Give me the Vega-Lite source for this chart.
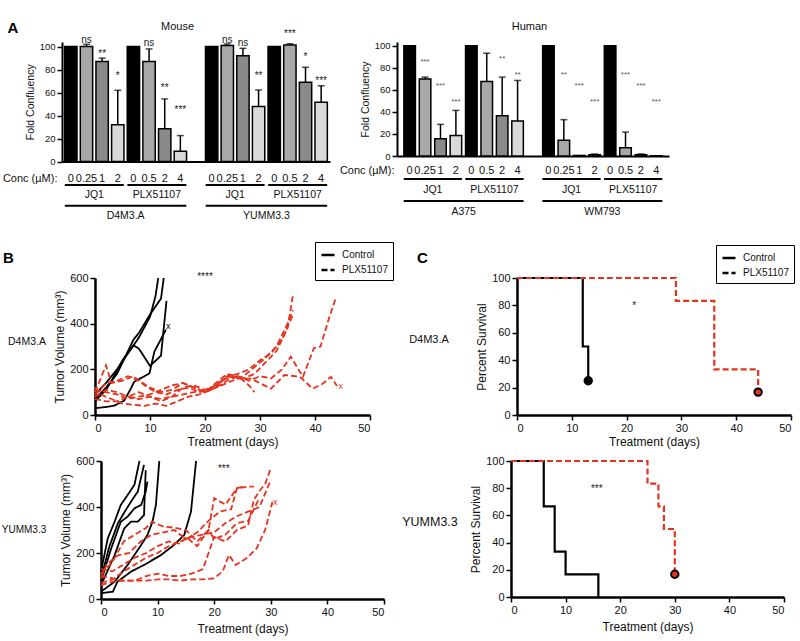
{
  "$schema": "https://vega.github.io/schema/vega-lite/v6.json",
  "background": "white",
  "padding": {"left": 1, "top": 20, "right": 2, "bottom": 2},
  "config": {
    "font": "Liberation Sans",
    "view": {"stroke": null},
    "axis": {"domainColor": "#000", "tickColor": "#000", "labelColor": "#111", "titleColor": "#111", "titleFontWeight": "normal", "grid": false, "domainWidth": 2.5, "tickWidth": 1.5, "tickSize": 5, "labelFontSize": 11, "titleFontSize": 12, "labelPadding": 2, "titlePadding": 3, "labelOverlap": false},
    "title": {"fontWeight": "normal", "color": "#111"},
    "text": {"color": "#111"}
  },
  "datasets": {
    "mouse": [
      {"slot": 0, "key": "0|0", "level": 0, "cell": "D4M3.A", "drug": "JQ1", "value": 100},
      {"slot": 1, "key": "1|0.25", "level": 1, "cell": "D4M3.A", "drug": "JQ1", "value": 100, "hi": 102, "sig": "ns", "sigY": 107.5},
      {"slot": 2, "key": "2|1", "level": 2, "cell": "D4M3.A", "drug": "JQ1", "value": 87, "hi": 90, "sig": "**", "sigY": 95},
      {"slot": 3, "key": "3|2", "level": 3, "cell": "D4M3.A", "drug": "JQ1", "value": 32, "hi": 62, "sig": "*", "sigY": 76},
      {"slot": 4, "key": "4|0", "level": 0, "cell": "D4M3.A", "drug": "PLX51107", "value": 100},
      {"slot": 5, "key": "5|0.5", "level": 1, "cell": "D4M3.A", "drug": "PLX51107", "value": 87, "hi": 98, "sig": "ns", "sigY": 105},
      {"slot": 6, "key": "6|2", "level": 2, "cell": "D4M3.A", "drug": "PLX51107", "value": 28.5, "hi": 54.5, "sig": "**", "sigY": 66},
      {"slot": 7, "key": "7|4", "level": 3, "cell": "D4M3.A", "drug": "PLX51107", "value": 9, "hi": 22.6, "sig": "***", "sigY": 47},
      {"slot": 9, "key": "9|0", "level": 0, "cell": "YUMM3.3", "drug": "JQ1", "value": 100},
      {"slot": 10, "key": "10|0.25", "level": 1, "cell": "YUMM3.3", "drug": "JQ1", "value": 101, "hi": 102.3, "sig": "ns", "sigY": 107.5},
      {"slot": 11, "key": "11|1", "level": 2, "cell": "YUMM3.3", "drug": "JQ1", "value": 92, "hi": 98.5, "sig": "ns", "sigY": 105},
      {"slot": 12, "key": "12|2", "level": 3, "cell": "YUMM3.3", "drug": "JQ1", "value": 48, "hi": 62.3, "sig": "**", "sigY": 76},
      {"slot": 13, "key": "13|0", "level": 0, "cell": "YUMM3.3", "drug": "PLX51107", "value": 100},
      {"slot": 14, "key": "14|0.5", "level": 1, "cell": "YUMM3.3", "drug": "PLX51107", "value": 101.4, "hi": 102.5, "sig": "***", "sigY": 113},
      {"slot": 15, "key": "15|2", "level": 2, "cell": "YUMM3.3", "drug": "PLX51107", "value": 69, "hi": 82, "sig": "*", "sigY": 93},
      {"slot": 16, "key": "16|4", "level": 3, "cell": "YUMM3.3", "drug": "PLX51107", "value": 51.6, "hi": 66, "sig": "***", "sigY": 72}
    ],
    "human": [
      {"slot": 0, "key": "0|0", "level": 0, "cell": "A375", "drug": "JQ1", "value": 100},
      {"slot": 1, "key": "1|0.25", "level": 1, "cell": "A375", "drug": "JQ1", "value": 70, "hi": 71.6, "sig": "***", "sigY": 87},
      {"slot": 2, "key": "2|1", "level": 2, "cell": "A375", "drug": "JQ1", "value": 15.7, "hi": 28.7, "sig": "***", "sigY": 65.5},
      {"slot": 3, "key": "3|2", "level": 3, "cell": "A375", "drug": "JQ1", "value": 18.7, "hi": 41.4, "sig": "***", "sigY": 51},
      {"slot": 4, "key": "4|0", "level": 0, "cell": "A375", "drug": "PLX51107", "value": 100},
      {"slot": 5, "key": "5|0.5", "level": 1, "cell": "A375", "drug": "PLX51107", "value": 67.7, "hi": 93.3, "sig": "*", "sigY": 91},
      {"slot": 6, "key": "6|2", "level": 2, "cell": "A375", "drug": "PLX51107", "value": 36.6, "hi": 71.6, "sig": "**", "sigY": 89.5},
      {"slot": 7, "key": "7|4", "level": 3, "cell": "A375", "drug": "PLX51107", "value": 31.7, "hi": 68.6, "sig": "**", "sigY": 75},
      {"slot": 9, "key": "9|0", "level": 0, "cell": "WM793", "drug": "JQ1", "value": 100},
      {"slot": 10, "key": "10|0.25", "level": 1, "cell": "WM793", "drug": "JQ1", "value": 14.2, "hi": 33, "sig": "**", "sigY": 75},
      {"slot": 11, "key": "11|1", "level": 2, "cell": "WM793", "drug": "JQ1", "value": 0.5, "sig": "***", "sigY": 65.5},
      {"slot": 12, "key": "12|2", "level": 3, "cell": "WM793", "drug": "JQ1", "value": 1.2, "hi": 1.8, "sig": "***", "sigY": 51},
      {"slot": 13, "key": "13|0", "level": 0, "cell": "WM793", "drug": "PLX51107", "value": 100},
      {"slot": 14, "key": "14|0.5", "level": 1, "cell": "WM793", "drug": "PLX51107", "value": 7.6, "hi": 21.7, "sig": "***", "sigY": 75},
      {"slot": 15, "key": "15|2", "level": 2, "cell": "WM793", "drug": "PLX51107", "value": 1.2, "hi": 1.8, "sig": "***", "sigY": 65.5},
      {"slot": 16, "key": "16|4", "level": 3, "cell": "WM793", "drug": "PLX51107", "value": 0.3, "sig": "***", "sigY": 51}
    ],
    "btop": [
      {"m":"c1","g":"Control","d":0,"v":90},{"m":"c1","g":"Control","d":2,"v":140},{"m":"c1","g":"Control","d":4,"v":200},{"m":"c1","g":"Control","d":6,"v":270},{"m":"c1","g":"Control","d":8,"v":340},{"m":"c1","g":"Control","d":10,"v":430},{"m":"c1","g":"Control","d":11,"v":520},{"m":"c1","g":"Control","d":11.5,"v":600},
      {"m":"c2","g":"Control","d":0,"v":70},{"m":"c2","g":"Control","d":2,"v":120},{"m":"c2","g":"Control","d":4,"v":180},{"m":"c2","g":"Control","d":6,"v":280},{"m":"c2","g":"Control","d":7,"v":330},{"m":"c2","g":"Control","d":8,"v":360},{"m":"c2","g":"Control","d":10,"v":440},{"m":"c2","g":"Control","d":12,"v":510},{"m":"c2","g":"Control","d":12.5,"v":600},
      {"m":"c3","g":"Control","d":0,"v":60},{"m":"c3","g":"Control","d":2,"v":110},{"m":"c3","g":"Control","d":3,"v":150},{"m":"c3","g":"Control","d":5,"v":240},{"m":"c3","g":"Control","d":7,"v":305},{"m":"c3","g":"Control","d":8,"v":290},{"m":"c3","g":"Control","d":10,"v":215},{"m":"c3","g":"Control","d":12,"v":260},{"m":"c3","g":"Control","d":13,"v":500},
      {"m":"c4","g":"Control","d":0,"v":30},{"m":"c4","g":"Control","d":2,"v":35},{"m":"c4","g":"Control","d":3.5,"v":41},{"m":"c4","g":"Control","d":5.3,"v":63},{"m":"c4","g":"Control","d":6.5,"v":115},{"m":"c4","g":"Control","d":7.1,"v":145},{"m":"c4","g":"Control","d":9.9,"v":182},{"m":"c4","g":"Control","d":10.8,"v":278},{"m":"c4","g":"Control","d":12.9,"v":374},
      {"m":"p1","g":"PLX51107","d":0,"v":100},{"m":"p1","g":"PLX51107","d":2,"v":217},{"m":"p1","g":"PLX51107","d":3,"v":140},{"m":"p1","g":"PLX51107","d":5,"v":150},{"m":"p1","g":"PLX51107","d":7,"v":170},{"m":"p1","g":"PLX51107","d":9,"v":130},{"m":"p1","g":"PLX51107","d":11,"v":100},{"m":"p1","g":"PLX51107","d":13,"v":90},{"m":"p1","g":"PLX51107","d":15,"v":110},{"m":"p1","g":"PLX51107","d":17,"v":120},{"m":"p1","g":"PLX51107","d":19,"v":100},{"m":"p1","g":"PLX51107","d":21,"v":110},{"m":"p1","g":"PLX51107","d":23,"v":150},{"m":"p1","g":"PLX51107","d":25,"v":170},{"m":"p1","g":"PLX51107","d":27,"v":160},{"m":"p1","g":"PLX51107","d":29,"v":180},{"m":"p1","g":"PLX51107","d":31,"v":230},{"m":"p1","g":"PLX51107","d":33,"v":280},{"m":"p1","g":"PLX51107","d":35,"v":380},{"m":"p1","g":"PLX51107","d":36,"v":527},
      {"m":"p2","g":"PLX51107","d":0,"v":120},{"m":"p2","g":"PLX51107","d":1,"v":90},{"m":"p2","g":"PLX51107","d":3,"v":70},{"m":"p2","g":"PLX51107","d":5,"v":50},{"m":"p2","g":"PLX51107","d":7,"v":45},{"m":"p2","g":"PLX51107","d":9,"v":40},{"m":"p2","g":"PLX51107","d":11,"v":50},{"m":"p2","g":"PLX51107","d":13,"v":40},{"m":"p2","g":"PLX51107","d":15,"v":60},{"m":"p2","g":"PLX51107","d":17,"v":80},{"m":"p2","g":"PLX51107","d":19,"v":90},{"m":"p2","g":"PLX51107","d":21,"v":110},{"m":"p2","g":"PLX51107","d":23,"v":130},{"m":"p2","g":"PLX51107","d":25,"v":150},{"m":"p2","g":"PLX51107","d":27,"v":170},{"m":"p2","g":"PLX51107","d":29,"v":210},{"m":"p2","g":"PLX51107","d":31,"v":250},{"m":"p2","g":"PLX51107","d":33,"v":300},{"m":"p2","g":"PLX51107","d":35,"v":400},{"m":"p2","g":"PLX51107","d":36,"v":460},
      {"m":"p3","g":"PLX51107","d":0,"v":80},{"m":"p3","g":"PLX51107","d":2,"v":110},{"m":"p3","g":"PLX51107","d":4,"v":100},{"m":"p3","g":"PLX51107","d":6,"v":80},{"m":"p3","g":"PLX51107","d":8,"v":70},{"m":"p3","g":"PLX51107","d":10,"v":80},{"m":"p3","g":"PLX51107","d":12,"v":60},{"m":"p3","g":"PLX51107","d":14,"v":80},{"m":"p3","g":"PLX51107","d":16,"v":120},{"m":"p3","g":"PLX51107","d":18,"v":130},{"m":"p3","g":"PLX51107","d":20,"v":110},{"m":"p3","g":"PLX51107","d":22,"v":130},{"m":"p3","g":"PLX51107","d":24,"v":170},{"m":"p3","g":"PLX51107","d":26,"v":180},{"m":"p3","g":"PLX51107","d":28,"v":200},{"m":"p3","g":"PLX51107","d":30,"v":240},{"m":"p3","g":"PLX51107","d":32,"v":270},{"m":"p3","g":"PLX51107","d":34,"v":330},{"m":"p3","g":"PLX51107","d":36,"v":440},
      {"m":"p4","g":"PLX51107","d":0,"v":90},{"m":"p4","g":"PLX51107","d":2,"v":140},{"m":"p4","g":"PLX51107","d":4,"v":150},{"m":"p4","g":"PLX51107","d":6,"v":170},{"m":"p4","g":"PLX51107","d":8,"v":150},{"m":"p4","g":"PLX51107","d":10,"v":120},{"m":"p4","g":"PLX51107","d":12,"v":100},{"m":"p4","g":"PLX51107","d":14,"v":110},{"m":"p4","g":"PLX51107","d":16,"v":140},{"m":"p4","g":"PLX51107","d":18,"v":120},{"m":"p4","g":"PLX51107","d":20,"v":100},{"m":"p4","g":"PLX51107","d":22,"v":140},{"m":"p4","g":"PLX51107","d":24,"v":180},{"m":"p4","g":"PLX51107","d":26,"v":170},{"m":"p4","g":"PLX51107","d":28,"v":150},{"m":"p4","g":"PLX51107","d":30,"v":170},{"m":"p4","g":"PLX51107","d":32,"v":160},{"m":"p4","g":"PLX51107","d":34,"v":200},{"m":"p4","g":"PLX51107","d":35.6,"v":256},{"m":"p4","g":"PLX51107","d":37.8,"v":167},{"m":"p4","g":"PLX51107","d":39.8,"v":293},{"m":"p4","g":"PLX51107","d":41,"v":300},{"m":"p4","g":"PLX51107","d":42.5,"v":420},{"m":"p4","g":"PLX51107","d":43.8,"v":514},
      {"m":"p5","g":"PLX51107","d":0,"v":110},{"m":"p5","g":"PLX51107","d":2,"v":100},{"m":"p5","g":"PLX51107","d":4,"v":90},{"m":"p5","g":"PLX51107","d":6,"v":70},{"m":"p5","g":"PLX51107","d":8,"v":80},{"m":"p5","g":"PLX51107","d":10,"v":90},{"m":"p5","g":"PLX51107","d":12,"v":110},{"m":"p5","g":"PLX51107","d":14,"v":130},{"m":"p5","g":"PLX51107","d":16,"v":140},{"m":"p5","g":"PLX51107","d":18,"v":120},{"m":"p5","g":"PLX51107","d":20,"v":100},{"m":"p5","g":"PLX51107","d":22,"v":120},{"m":"p5","g":"PLX51107","d":24,"v":170},{"m":"p5","g":"PLX51107","d":26,"v":160},{"m":"p5","g":"PLX51107","d":28.4,"v":159},{"m":"p5","g":"PLX51107","d":32,"v":115},{"m":"p5","g":"PLX51107","d":34.4,"v":175},{"m":"p5","g":"PLX51107","d":37.2,"v":168},{"m":"p5","g":"PLX51107","d":39.6,"v":115},{"m":"p5","g":"PLX51107","d":41.4,"v":137},{"m":"p5","g":"PLX51107","d":42.9,"v":167},{"m":"p5","g":"PLX51107","d":44,"v":127},
      {"m":"p6","g":"PLX51107","d":0,"v":70},{"m":"p6","g":"PLX51107","d":2,"v":60},{"m":"p6","g":"PLX51107","d":4,"v":60},{"m":"p6","g":"PLX51107","d":6,"v":80},{"m":"p6","g":"PLX51107","d":8,"v":100},{"m":"p6","g":"PLX51107","d":10,"v":80},{"m":"p6","g":"PLX51107","d":12,"v":70},{"m":"p6","g":"PLX51107","d":14,"v":80},{"m":"p6","g":"PLX51107","d":16,"v":90},{"m":"p6","g":"PLX51107","d":18,"v":100},{"m":"p6","g":"PLX51107","d":20,"v":110},{"m":"p6","g":"PLX51107","d":22,"v":120},{"m":"p6","g":"PLX51107","d":24,"v":150},{"m":"p6","g":"PLX51107","d":26,"v":170},{"m":"p6","g":"PLX51107","d":28,"v":130},{"m":"p6","g":"PLX51107","d":29,"v":100}
    ],
    "bbot": [
      {"m":"y1","g":"Control","d":0,"v":119},{"m":"y1","g":"Control","d":1.2,"v":264},{"m":"y1","g":"Control","d":2.4,"v":336},{"m":"y1","g":"Control","d":3.5,"v":409},{"m":"y1","g":"Control","d":4.7,"v":452},{"m":"y1","g":"Control","d":5.9,"v":496},{"m":"y1","g":"Control","d":6.8,"v":600},
      {"m":"y2","g":"Control","d":0,"v":90},{"m":"y2","g":"Control","d":1.5,"v":230},{"m":"y2","g":"Control","d":3,"v":330},{"m":"y2","g":"Control","d":4.2,"v":380},{"m":"y2","g":"Control","d":5.3,"v":423},{"m":"y2","g":"Control","d":6.5,"v":467},{"m":"y2","g":"Control","d":7.6,"v":583},
      {"m":"y3","g":"Control","d":0,"v":75},{"m":"y3","g":"Control","d":1.8,"v":220},{"m":"y3","g":"Control","d":3.5,"v":336},{"m":"y3","g":"Control","d":4.7,"v":358},{"m":"y3","g":"Control","d":5.9,"v":394},{"m":"y3","g":"Control","d":7.1,"v":409},{"m":"y3","g":"Control","d":7.9,"v":467},{"m":"y3","g":"Control","d":8.2,"v":510},
      {"m":"y4","g":"Control","d":0,"v":60},{"m":"y4","g":"Control","d":2.4,"v":190},{"m":"y4","g":"Control","d":4.1,"v":307},{"m":"y4","g":"Control","d":5.3,"v":336},{"m":"y4","g":"Control","d":6.5,"v":336},{"m":"y4","g":"Control","d":7.6,"v":365},{"m":"y4","g":"Control","d":7.9,"v":560},
      {"m":"y5","g":"Control","d":0,"v":32},{"m":"y5","g":"Control","d":2.4,"v":75},{"m":"y5","g":"Control","d":4.7,"v":148},{"m":"y5","g":"Control","d":7.1,"v":235},{"m":"y5","g":"Control","d":8.2,"v":278},{"m":"y5","g":"Control","d":9.1,"v":336},{"m":"y5","g":"Control","d":9.7,"v":409},{"m":"y5","g":"Control","d":10.3,"v":600},
      {"m":"y6","g":"Control","d":0,"v":25},{"m":"y6","g":"Control","d":2.1,"v":32},{"m":"y6","g":"Control","d":2.9,"v":75},{"m":"y6","g":"Control","d":5.3,"v":119},{"m":"y6","g":"Control","d":7.6,"v":148},{"m":"y6","g":"Control","d":10.6,"v":191},{"m":"y6","g":"Control","d":12.9,"v":235},{"m":"y6","g":"Control","d":14.7,"v":278},{"m":"y6","g":"Control","d":15.9,"v":380},{"m":"y6","g":"Control","d":16.8,"v":600},
      {"m":"r1","g":"PLX51107","d":0,"v":110},{"m":"r1","g":"PLX51107","d":2,"v":160},{"m":"r1","g":"PLX51107","d":4,"v":250},{"m":"r1","g":"PLX51107","d":6,"v":280},{"m":"r1","g":"PLX51107","d":8,"v":310},{"m":"r1","g":"PLX51107","d":9,"v":336},{"m":"r1","g":"PLX51107","d":11,"v":315},{"m":"r1","g":"PLX51107","d":13,"v":310},{"m":"r1","g":"PLX51107","d":15,"v":300},{"m":"r1","g":"PLX51107","d":17,"v":250},{"m":"r1","g":"PLX51107","d":19,"v":300},{"m":"r1","g":"PLX51107","d":20,"v":438},{"m":"r1","g":"PLX51107","d":22,"v":410},{"m":"r1","g":"PLX51107","d":24,"v":481},{"m":"r1","g":"PLX51107","d":25,"v":489},
      {"m":"r2","g":"PLX51107","d":0,"v":90},{"m":"r2","g":"PLX51107","d":1,"v":150},{"m":"r2","g":"PLX51107","d":3,"v":190},{"m":"r2","g":"PLX51107","d":5,"v":200},{"m":"r2","g":"PLX51107","d":7,"v":250},{"m":"r2","g":"PLX51107","d":9,"v":280},{"m":"r2","g":"PLX51107","d":11,"v":290},{"m":"r2","g":"PLX51107","d":13,"v":300},{"m":"r2","g":"PLX51107","d":15,"v":260},{"m":"r2","g":"PLX51107","d":17,"v":290},{"m":"r2","g":"PLX51107","d":19,"v":340},{"m":"r2","g":"PLX51107","d":21,"v":380},{"m":"r2","g":"PLX51107","d":23,"v":390},{"m":"r2","g":"PLX51107","d":24,"v":481},{"m":"r2","g":"PLX51107","d":26,"v":489},{"m":"r2","g":"PLX51107","d":27,"v":489},
      {"m":"r3","g":"PLX51107","d":0,"v":130},{"m":"r3","g":"PLX51107","d":2,"v":120},{"m":"r3","g":"PLX51107","d":4,"v":150},{"m":"r3","g":"PLX51107","d":6,"v":180},{"m":"r3","g":"PLX51107","d":8,"v":200},{"m":"r3","g":"PLX51107","d":10,"v":230},{"m":"r3","g":"PLX51107","d":12,"v":250},{"m":"r3","g":"PLX51107","d":14,"v":240},{"m":"r3","g":"PLX51107","d":15,"v":270},{"m":"r3","g":"PLX51107","d":17,"v":230},{"m":"r3","g":"PLX51107","d":19,"v":300},{"m":"r3","g":"PLX51107","d":20,"v":260},{"m":"r3","g":"PLX51107","d":22,"v":280},{"m":"r3","g":"PLX51107","d":24,"v":330},{"m":"r3","g":"PLX51107","d":26,"v":340},{"m":"r3","g":"PLX51107","d":28,"v":440},
      {"m":"r4","g":"PLX51107","d":0,"v":100},{"m":"r4","g":"PLX51107","d":2,"v":90},{"m":"r4","g":"PLX51107","d":4,"v":80},{"m":"r4","g":"PLX51107","d":6,"v":80},{"m":"r4","g":"PLX51107","d":8,"v":100},{"m":"r4","g":"PLX51107","d":10,"v":110},{"m":"r4","g":"PLX51107","d":12,"v":100},{"m":"r4","g":"PLX51107","d":14,"v":100},{"m":"r4","g":"PLX51107","d":16,"v":110},{"m":"r4","g":"PLX51107","d":18,"v":130},{"m":"r4","g":"PLX51107","d":20,"v":270},{"m":"r4","g":"PLX51107","d":22,"v":250},{"m":"r4","g":"PLX51107","d":24,"v":300},{"m":"r4","g":"PLX51107","d":26,"v":320},{"m":"r4","g":"PLX51107","d":27,"v":430},{"m":"r4","g":"PLX51107","d":28,"v":470},{"m":"r4","g":"PLX51107","d":29,"v":500},{"m":"r4","g":"PLX51107","d":30,"v":568},
      {"m":"r5","g":"PLX51107","d":0,"v":70},{"m":"r5","g":"PLX51107","d":2,"v":85},{"m":"r5","g":"PLX51107","d":4,"v":120},{"m":"r5","g":"PLX51107","d":6,"v":150},{"m":"r5","g":"PLX51107","d":8,"v":180},{"m":"r5","g":"PLX51107","d":10,"v":200},{"m":"r5","g":"PLX51107","d":12,"v":230},{"m":"r5","g":"PLX51107","d":14,"v":250},{"m":"r5","g":"PLX51107","d":16,"v":270},{"m":"r5","g":"PLX51107","d":18,"v":280},{"m":"r5","g":"PLX51107","d":20,"v":290},{"m":"r5","g":"PLX51107","d":22,"v":330},{"m":"r5","g":"PLX51107","d":24,"v":360},{"m":"r5","g":"PLX51107","d":26,"v":380},{"m":"r5","g":"PLX51107","d":28,"v":400},{"m":"r5","g":"PLX51107","d":30,"v":518},
      {"m":"r6","g":"PLX51107","d":0,"v":60},{"m":"r6","g":"PLX51107","d":2,"v":75},{"m":"r6","g":"PLX51107","d":4,"v":80},{"m":"r6","g":"PLX51107","d":6,"v":80},{"m":"r6","g":"PLX51107","d":8,"v":80},{"m":"r6","g":"PLX51107","d":10,"v":85},{"m":"r6","g":"PLX51107","d":12,"v":85},{"m":"r6","g":"PLX51107","d":14,"v":80},{"m":"r6","g":"PLX51107","d":16,"v":85},{"m":"r6","g":"PLX51107","d":18,"v":85},{"m":"r6","g":"PLX51107","d":20,"v":90},{"m":"r6","g":"PLX51107","d":21.5,"v":120},{"m":"r6","g":"PLX51107","d":22.6,"v":191},{"m":"r6","g":"PLX51107","d":23.8,"v":148},{"m":"r6","g":"PLX51107","d":25.7,"v":177},{"m":"r6","g":"PLX51107","d":27.5,"v":220},{"m":"r6","g":"PLX51107","d":29,"v":300},{"m":"r6","g":"PLX51107","d":30.3,"v":423}
    ],
    "ctop": [
      {"g":"Control","d":0,"s":100},{"g":"Control","d":12,"s":50},{"g":"Control","d":13,"s":25},
      {"g":"PLX51107","d":0,"s":100},{"g":"PLX51107","d":29,"s":83.3},{"g":"PLX51107","d":36,"s":33.3},{"g":"PLX51107","d":44,"s":16.7}
    ],
    "cbot": [
      {"g":"Control","d":0,"s":100},{"g":"Control","d":6,"s":66.7},{"g":"Control","d":8,"s":33.3},{"g":"Control","d":10,"s":16.7},{"g":"Control","d":16,"s":0},
      {"g":"PLX51107","d":0,"s":100},{"g":"PLX51107","d":25,"s":83.3},{"g":"PLX51107","d":27,"s":66.7},{"g":"PLX51107","d":28,"s":50},{"g":"PLX51107","d":30,"s":16.7}
    ]
  },
  "resolve": {"scale": {"color": "independent", "strokeDash": "independent"}, "legend": {"color": "independent", "strokeDash": "independent"}},
  "columns": 1,
  "spacing": 19,
  "concat": [
    {
      "spacing": 9,
      "resolve": {"scale": {"color": "independent"}},
      "hconcat": [
        {
          "spacing": 0,
          "resolve": {"scale": {"color": "independent"}},
          "hconcat": [
            {"width": 1, "height": 1, "data": {"values": []}, "mark": "text"},
            {
              "spacing": 0,
              "vconcat": [
                {
                  "width": 268, "height": 119.6,
                  "data": {"name": "mouse"},
                  "resolve": {"axis": {"x": "independent"}},
                  "layer": [
                    {"mark": {"type": "bar", "stroke": "#000", "strokeWidth": 1.5},
                     "encoding": {
                       "x": {"field": "key", "type": "ordinal",
                         "scale": {"domain": ["0|0","1|0.25","2|1","3|2","4|0","5|0.5","6|2","7|4","8|","9|0","10|0.25","11|1","12|2","13|0","14|0.5","15|2","16|4"], "paddingInner": 0.21, "paddingOuter": 0.17},
                         "axis": {"title": "Conc (µM):", "labelExpr": "split(datum.value, '|')[1]", "ticks": false, "tickSize": 0, "labelAngle": 0, "labelPadding": 11, "labelFontSize": 11, "labelOverlap": false, "domainWidth": 2, "titleX": -5, "titleY": 11, "titleAlign": "right", "titleBaseline": "top", "titleAngle": 0, "titleFontSize": 11, "titlePadding": 0}},
                       "y": {"field": "value", "type": "quantitative", "scale": {"domain": [0, 104], "nice": false}, "axis": {"title": "Fold Confluency", "values": [0,20,40,60,80,100], "tickCount": 20, "labelOverlap": false, "labelFontSize": 9.5, "titleFontSize": 10.5, "domainWidth": 2, "tickSize": 5, "titlePadding": 4}},
                       "color": {"field": "level", "type": "ordinal", "scale": {"domain": [0,1,2,3], "range": ["#000000","#a8a8a8","#8a8a8a","#d9d9d9"]}, "legend": null}}},
                    {"transform": [{"filter": "datum.hi != null"}], "mark": {"type": "rule", "color": "#000", "strokeWidth": 1.5},
                     "encoding": {
                       "x": {"field": "key", "type": "ordinal", "axis": {"orient": "top", "title": "A", "labels": false, "ticks": false, "domain": false, "titleX": -55, "titleY": -10, "titleAlign": "left", "titleBaseline": "alphabetic", "titleFontSize": 15, "titleFontWeight": "bold", "titleColor": "#000", "titleAngle": 0, "titlePadding": 0}},
                       "y": {"field": "value", "type": "quantitative"}, "y2": {"field": "hi"}}},
                    {"transform": [{"filter": "datum.hi != null"}], "mark": {"type": "tick", "color": "#000", "thickness": 1.5, "size": 7},
                     "encoding": {"x": {"field": "key", "type": "ordinal", "axis": null}, "y": {"field": "hi", "type": "quantitative"}}},
                    {"transform": [{"filter": "datum.sig != null"}], "mark": {"type": "text", "fontSize": 10, "baseline": "middle", "dy": 2, "color": "#222"},
                     "encoding": {
                       "x": {"field": "key", "type": "ordinal", "axis": {"orient": "top", "title": "Mouse", "labels": false, "ticks": false, "domain": false, "titleX": 115, "titleY": -13, "titleBaseline": "alphabetic", "titleFontSize": 11, "titleAngle": 0, "titlePadding": 0}},
                       "y": {"field": "sigY", "type": "quantitative"}, "text": {"field": "sig"}}}
                  ]
                },
                {
                  "width": 268, "height": 31,
                  "data": {"name": "mouse"},
                  "layer": [
                    {"mark": {"type": "rule", "strokeWidth": 2, "color": "#000", "xOffset": -6, "x2Offset": 6},
                     "encoding": {
                       "x": {"aggregate": "min", "field": "slot", "type": "quantitative", "scale": {"domain": [-0.565, 16.565], "nice": false, "zero": false}, "axis": null},
                       "x2": {"aggregate": "max", "field": "slot"},
                       "y": {"datum": 0, "type": "quantitative", "scale": {"domain": [0, 3], "reverse": true, "nice": false}, "axis": null},
                       "detail": [{"field": "cell", "type": "nominal"}, {"field": "drug", "type": "nominal"}]}},
                    {"mark": {"type": "text", "fontSize": 10.5, "baseline": "middle", "color": "#111"},
                     "encoding": {
                       "x": {"aggregate": "mean", "field": "slot", "type": "quantitative"},
                       "y": {"datum": 1, "type": "quantitative"},
                       "text": {"field": "drug", "type": "nominal"},
                       "detail": {"field": "cell", "type": "nominal"}}},
                    {"mark": {"type": "rule", "strokeWidth": 2, "color": "#000", "xOffset": -6, "x2Offset": 6},
                     "encoding": {
                       "x": {"aggregate": "min", "field": "slot", "type": "quantitative"},
                       "x2": {"aggregate": "max", "field": "slot"},
                       "y": {"datum": 2, "type": "quantitative"},
                       "detail": {"field": "cell", "type": "nominal"}}},
                    {"mark": {"type": "text", "fontSize": 10.5, "baseline": "middle", "color": "#111"},
                     "encoding": {
                       "x": {"aggregate": "mean", "field": "slot", "type": "quantitative"},
                       "y": {"datum": 3, "type": "quantitative"},
                       "text": {"field": "cell", "type": "nominal"}}}
                  ]
                }
              ]
            }
          ]
        },
        {
          "spacing": 2,
          "vconcat": [
            {
              "width": 272, "height": 114,
              "data": {"name": "human"},
              "resolve": {"axis": {"x": "independent"}},
              "layer": [
                {"mark": {"type": "bar", "stroke": "#000", "strokeWidth": 1.5},
                 "encoding": {
                   "x": {"field": "key", "type": "ordinal",
                     "scale": {"domain": ["0|0","1|0.25","2|1","3|2","4|0","5|0.5","6|2","7|4","8|","9|0","10|0.25","11|1","12|2","13|0","14|0.5","15|2","16|4"], "paddingInner": 0.25, "paddingOuter": 0.445},
                     "axis": {"title": "Conc (µM):", "labelExpr": "split(datum.value, '|')[1]", "ticks": false, "tickSize": 0, "labelAngle": 0, "labelPadding": 8.5, "labelFontSize": 11, "labelOverlap": false, "domainWidth": 2, "titleX": -3, "titleY": 8.5, "titleAlign": "right", "titleBaseline": "top", "titleAngle": 0, "titleFontSize": 11, "titlePadding": 0}},
                   "y": {"field": "value", "type": "quantitative", "scale": {"domain": [0, 103.5], "nice": false}, "axis": {"title": "Fold Confluency", "values": [0,20,40,60,80,100], "tickCount": 20, "labelOverlap": false, "labelFontSize": 9.5, "titleFontSize": 10.5, "domainWidth": 2, "tickSize": 5, "titlePadding": 4}},
                   "color": {"field": "level", "type": "ordinal", "scale": {"domain": [0,1,2,3], "range": ["#000000","#a8a8a8","#8a8a8a","#d9d9d9"]}, "legend": null}}},
                {"transform": [{"filter": "datum.hi != null"}], "mark": {"type": "rule", "color": "#000", "strokeWidth": 1.5},
                 "encoding": {"x": {"field": "key", "type": "ordinal", "axis": null}, "y": {"field": "value", "type": "quantitative"}, "y2": {"field": "hi"}}},
                {"transform": [{"filter": "datum.hi != null"}], "mark": {"type": "tick", "color": "#000", "thickness": 1.5, "size": 7},
                 "encoding": {"x": {"field": "key", "type": "ordinal", "axis": null}, "y": {"field": "hi", "type": "quantitative"}}},
                {"transform": [{"filter": "datum.sig != null"}], "mark": {"type": "text", "fontSize": 8, "baseline": "middle", "dy": 2, "color": "#555"},
                 "encoding": {
                   "x": {"field": "key", "type": "ordinal", "axis": {"orient": "top", "title": "Human", "labels": false, "ticks": false, "domain": false, "titleX": 132, "titleY": -13, "titleBaseline": "alphabetic", "titleFontSize": 11, "titleAngle": 0, "titlePadding": 0}},
                   "y": {"field": "sigY", "type": "quantitative"}, "text": {"field": "sig"}}}
              ]
            },
            {
              "width": 272, "height": 33,
              "data": {"name": "human"},
              "layer": [
                {"mark": {"type": "rule", "strokeWidth": 2, "color": "#000", "xOffset": -6, "x2Offset": 6},
                 "encoding": {
                   "x": {"aggregate": "min", "field": "slot", "type": "quantitative", "scale": {"domain": [-0.825, 16.825], "nice": false, "zero": false}, "axis": null},
                   "x2": {"aggregate": "max", "field": "slot"},
                   "y": {"datum": 0, "type": "quantitative", "scale": {"domain": [0, 3], "reverse": true, "nice": false}, "axis": null},
                   "detail": [{"field": "cell", "type": "nominal"}, {"field": "drug", "type": "nominal"}]}},
                {"mark": {"type": "text", "fontSize": 10.5, "baseline": "middle", "color": "#111"},
                 "encoding": {
                   "x": {"aggregate": "mean", "field": "slot", "type": "quantitative"},
                   "y": {"datum": 1, "type": "quantitative"},
                   "text": {"field": "drug", "type": "nominal"},
                   "detail": {"field": "cell", "type": "nominal"}}},
                {"mark": {"type": "rule", "strokeWidth": 2, "color": "#000", "xOffset": -6, "x2Offset": 6},
                 "encoding": {
                   "x": {"aggregate": "min", "field": "slot", "type": "quantitative"},
                   "x2": {"aggregate": "max", "field": "slot"},
                   "y": {"datum": 2, "type": "quantitative"},
                   "detail": {"field": "cell", "type": "nominal"}}},
                {"mark": {"type": "text", "fontSize": 10.5, "baseline": "middle", "color": "#111"},
                 "encoding": {
                   "x": {"aggregate": "mean", "field": "slot", "type": "quantitative"},
                   "y": {"datum": 3, "type": "quantitative"},
                   "text": {"field": "cell", "type": "nominal"}}}
              ]
            }
          ]
        }
      ]
    },
    {
      "columns": 1,
      "spacing": 8,
      "resolve": {"scale": {"color": "independent", "strokeDash": "independent"}, "legend": {"color": "independent", "strokeDash": "independent"}},
      "concat": [
        {
          "spacing": 10,
          "resolve": {"scale": {"color": "independent", "strokeDash": "independent"}, "legend": {"color": "independent", "strokeDash": "independent"}},
          "hconcat": [
            {
              "spacing": 0,
              "resolve": {"scale": {"color": "independent", "strokeDash": "independent"}, "legend": {"color": "independent", "strokeDash": "independent"}},
              "hconcat": [
                {
                  "width": 52, "height": 128,
                  "title": {"text": "B", "anchor": "start", "fontSize": 15, "fontWeight": "bold", "baseline": "alphabetic", "offset": 0, "dx": 2, "color": "#000"},
                  "data": {"values": [{"name": "D4M3.A"}]},
                  "mark": {"type": "text", "fontSize": 10.5, "color": "#111"},
                  "encoding": {"text": {"field": "name"}}
                },
                {
                  "width": 275, "height": 137,
                  "layer": [
                    {"data": {"name": "btop"}, "mark": {"type": "line", "strokeWidth": 1.8},
                     "encoding": {
                       "x": {"field": "d", "type": "quantitative", "scale": {"domain": [0, 50], "nice": false}, "axis": {"title": "Treatment (days)", "values": [0,10,20,30,40,50], "tickCount": 20, "labelOverlap": false}},
                       "y": {"field": "v", "type": "quantitative", "scale": {"domain": [0, 600], "nice": false}, "axis": {"title": "Tumor Volume (mm³)", "values": [0,200,400,600], "tickCount": 20, "labelOverlap": false}},
                       "detail": {"field": "m"},
                       "color": {"condition": {"test": "datum.g === 'PLX51107'", "value": "#e5331f"}, "value": "#000"},
                       "strokeDash": {"field": "g", "type": "nominal", "scale": {"domain": ["Control", "PLX51107"], "range": [[1, 0], [6, 3]]},
                         "legend": {"title": null, "orient": "none", "legendX": 220, "legendY": -36, "strokeColor": "#000", "padding": 5, "symbolType": "stroke", "symbolStrokeColor": "#000", "symbolStrokeWidth": 2.5, "symbolSize": 170, "labelFontSize": 10, "labelOffset": 6, "rowPadding": 2, "labelColor": "#111"}}}},
                    {"data": {"values": [{"d": 13.3, "v": 390, "g": "Control"}, {"d": 44.7, "v": 127, "g": "PLX51107"}]},
                     "mark": {"type": "text", "fontSize": 9},
                     "encoding": {"x": {"field": "d", "type": "quantitative"}, "y": {"field": "v", "type": "quantitative"}, "text": {"value": "x"},
                       "color": {"condition": {"test": "datum.g === 'PLX51107'", "value": "#e5331f"}, "value": "#000"}}},
                    {"data": {"values": [{"d": 20, "v": 615, "t": "****"}]},
                     "mark": {"type": "text", "fontSize": 10, "baseline": "middle", "dy": 2, "color": "#222"},
                     "encoding": {"x": {"field": "d", "type": "quantitative"}, "y": {"field": "v", "type": "quantitative"}, "text": {"field": "t"}}}
                  ]
                }
              ]
            },
            {
              "spacing": 21,
              "resolve": {"scale": {"color": "independent", "strokeDash": "independent"}, "legend": {"color": "independent", "strokeDash": "independent"}},
              "hconcat": [
                {
                  "width": 50, "height": 124,
                  "title": {"text": "C", "anchor": "start", "fontSize": 15, "fontWeight": "bold", "baseline": "alphabetic", "offset": 0, "dx": 13, "color": "#000"},
                  "data": {"values": [{"name": "D4M3.A"}]},
                  "mark": {"type": "text", "fontSize": 11, "color": "#111"},
                  "encoding": {"text": {"field": "name"}}
                },
                {
                  "width": 274, "height": 137,
                  "layer": [
                    {"data": {"name": "ctop"}, "mark": {"type": "line", "interpolate": "step-after", "strokeWidth": 2.2},
                     "encoding": {
                       "x": {"field": "d", "type": "quantitative", "scale": {"domain": [0, 50], "nice": false}, "axis": {"title": "Treatment (days)", "values": [0,10,20,30,40,50], "tickCount": 20, "labelOverlap": false}},
                       "y": {"field": "s", "type": "quantitative", "scale": {"domain": [0, 100], "nice": false}, "axis": {"title": "Percent Survival", "values": [0,20,40,60,80,100], "tickCount": 20, "labelOverlap": false}},
                       "color": {"condition": {"test": "datum.g === 'PLX51107'", "value": "#e5331f"}, "value": "#000"},
                       "strokeDash": {"field": "g", "type": "nominal", "scale": {"domain": ["Control", "PLX51107"], "range": [[1, 0], [6, 3]]},
                         "legend": {"title": null, "orient": "none", "legendX": 199, "legendY": -33, "strokeColor": "#000", "padding": 5, "symbolType": "stroke", "symbolStrokeColor": "#000", "symbolStrokeWidth": 2.5, "symbolSize": 170, "labelFontSize": 10, "labelOffset": 6, "rowPadding": 2, "labelColor": "#111"}}}},
                    {"data": {"values": [{"d": 13, "s": 25, "g": "Control"}, {"d": 44, "s": 16.7, "g": "PLX51107"}]},
                     "mark": {"type": "circle", "size": 55, "opacity": 1, "stroke": "#000", "strokeWidth": 2},
                     "encoding": {"x": {"field": "d", "type": "quantitative"}, "y": {"field": "s", "type": "quantitative"},
                       "color": {"condition": {"test": "datum.g === 'PLX51107'", "value": "#e5331f"}, "value": "#000"}}},
                    {"data": {"values": [{"d": 21.4, "s": 81, "t": "*"}]},
                     "mark": {"type": "text", "fontSize": 10, "baseline": "middle", "dy": 2, "color": "#222"},
                     "encoding": {"x": {"field": "d", "type": "quantitative"}, "y": {"field": "s", "type": "quantitative"}, "text": {"field": "t"}}}
                  ]
                }
              ]
            }
          ]
        },
        {
          "spacing": 9,
          "hconcat": [
            {
              "spacing": 12,
              "hconcat": [
                {
                  "width": 46, "height": 138,
                  "data": {"values": [{"name": "YUMM3.3"}]},
                  "mark": {"type": "text", "fontSize": 10, "color": "#111"},
                  "encoding": {"text": {"field": "name"}}
                },
                {
                  "width": 283, "height": 138,
                  "layer": [
                    {"data": {"name": "bbot"}, "mark": {"type": "line", "strokeWidth": 1.8},
                     "encoding": {
                       "x": {"field": "d", "type": "quantitative", "scale": {"domain": [0, 50], "nice": false}, "axis": {"title": "Treatment (days)", "values": [0,10,20,30,40,50], "tickCount": 20, "labelOverlap": false, "titlePadding": 6}},
                       "y": {"field": "v", "type": "quantitative", "scale": {"domain": [0, 600], "nice": false}, "axis": {"title": "Tumor Volume (mm³)", "values": [0,200,400,600], "tickCount": 20, "labelOverlap": false}},
                       "detail": {"field": "m"},
                       "color": {"condition": {"test": "datum.g === 'PLX51107'", "value": "#e5331f"}, "value": "#000"},
                       "strokeDash": {"condition": {"test": "datum.g === 'PLX51107'", "value": [6, 3]}, "value": [1, 0]}}},
                    {"data": {"values": [{"d": 30.8, "v": 423}]},
                     "mark": {"type": "text", "fontSize": 9, "color": "#e5331f"},
                     "encoding": {"x": {"field": "d", "type": "quantitative"}, "y": {"field": "v", "type": "quantitative"}, "text": {"value": "x"}}},
                    {"data": {"values": [{"d": 21.7, "v": 575, "t": "***"}]},
                     "mark": {"type": "text", "fontSize": 10, "baseline": "middle", "dy": 2, "color": "#222"},
                     "encoding": {"x": {"field": "d", "type": "quantitative"}, "y": {"field": "v", "type": "quantitative"}, "text": {"field": "t"}}}
                  ]
                }
              ]
            },
            {
              "spacing": 3,
              "hconcat": [
                {
                  "width": 72, "height": 122,
                  "data": {"values": [{"name": "YUMM3.3"}]},
                  "mark": {"type": "text", "fontSize": 12.5, "color": "#111"},
                  "encoding": {"text": {"field": "name"}}
                },
                {
                  "width": 273, "height": 136,
                  "layer": [
                    {"data": {"name": "cbot"}, "mark": {"type": "line", "interpolate": "step-after", "strokeWidth": 2.2},
                     "encoding": {
                       "x": {"field": "d", "type": "quantitative", "scale": {"domain": [0, 50], "nice": false}, "axis": {"title": "Treatment (days)", "values": [0,10,20,30,40,50], "tickCount": 20, "labelOverlap": false, "titlePadding": 6}},
                       "y": {"field": "s", "type": "quantitative", "scale": {"domain": [0, 100], "nice": false}, "axis": {"title": "Percent Survival", "values": [0,20,40,60,80,100], "tickCount": 20, "labelOverlap": false}},
                       "detail": {"field": "g"},
                       "color": {"condition": {"test": "datum.g === 'PLX51107'", "value": "#e5331f"}, "value": "#000"},
                       "strokeDash": {"condition": {"test": "datum.g === 'PLX51107'", "value": [6, 3]}, "value": [1, 0]}}},
                    {"data": {"values": [{"d": 30, "s": 16.7}]},
                     "mark": {"type": "circle", "size": 55, "opacity": 1, "stroke": "#000", "strokeWidth": 2, "fill": "#e5331f"},
                     "encoding": {"x": {"field": "d", "type": "quantitative"}, "y": {"field": "s", "type": "quantitative"}}},
                    {"data": {"values": [{"d": 15.7, "s": 80.7, "t": "***"}]},
                     "mark": {"type": "text", "fontSize": 10, "baseline": "middle", "dy": 2, "color": "#222"},
                     "encoding": {"x": {"field": "d", "type": "quantitative"}, "y": {"field": "s", "type": "quantitative"}, "text": {"field": "t"}}}
                  ]
                }
              ]
            }
          ]
        }
      ]
    }
  ]
}
